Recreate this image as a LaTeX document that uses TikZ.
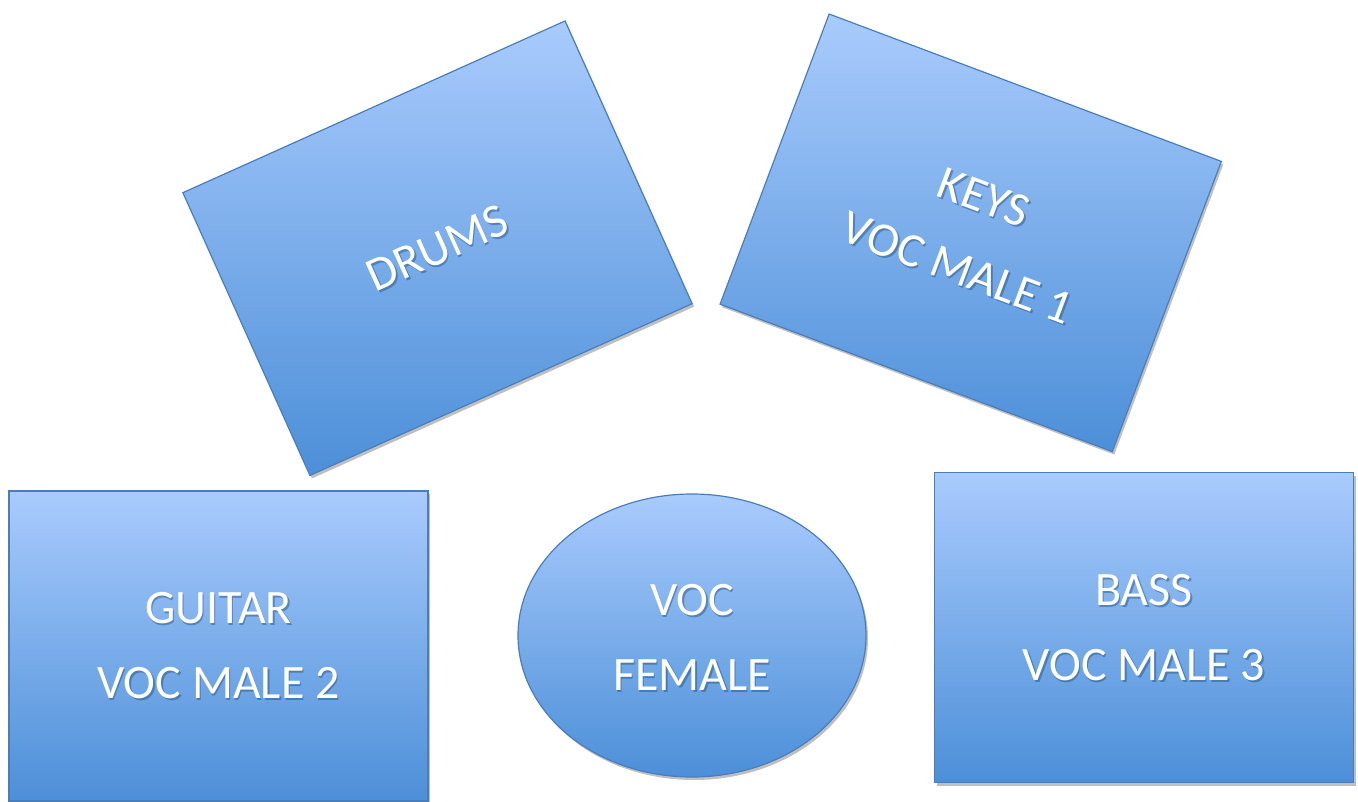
\documentclass[tikz,border=0pt]{standalone}
\usepackage{fontspec}
\setmainfont{Carlito}
\usetikzlibrary{shapes.geometric,shadows}
\definecolor{gtop}{HTML}{A9CBFD}
\definecolor{gbot}{HTML}{4C8FD8}
\definecolor{edgeblue}{HTML}{4A7EBB}
\definecolor{txtshadow}{HTML}{1F4E79}
\tikzset{
  panel/.style={draw=edgeblue, line width=1.2pt, top color=gtop, bottom color=gbot,
    drop shadow={shadow xshift=2pt, shadow yshift=-3pt, opacity=0.25, fill=black}},
  box/.style={panel, rectangle, minimum width=419pt, minimum height=310pt, inner sep=0pt},
  oval/.style={panel, ellipse, minimum width=348pt, minimum height=283pt, inner sep=0pt},
  lbl/.style={text=white, font=\fontsize{48}{75}\selectfont, align=center, inner sep=0pt},
  lblshadow/.style={lbl, text=txtshadow, opacity=0.45, xshift=1.5pt, yshift=-2pt}
}
\begin{document}
\begin{tikzpicture}[x=1pt,y=-1pt]
  \useasboundingbox (0,0) rectangle (1358,801);
  \clip (0,0) rectangle (1358,801);
  % shapes
  \node[box, rotate=24.2] (drums) at (437.5,248.2) {};
  \node[box, rotate=-20.6] (keys) at (970.7,232.8) {};
  \node[box] (guitar) at (218.5,646) {};
  \node[oval] (voc) at (692,635.5) {};
  \node[box] (bass) at (1144,627.5) {};
  % label shadows
  \node[lblshadow, rotate=24.2] (drumsS) at (drums.center) {DRUMS};
  \node[lblshadow, rotate=-20.6] (keysS) at (keys.center) {KEYS\\VOC MALE 1};
  \node[lblshadow] (guitarS) at (guitar.center) {GUITAR\\VOC MALE 2};
  \node[lblshadow] (vocS) at ([yshift=-2pt]voc.center) {VOC\\FEMALE};
  \node[lblshadow] (bassS) at (bass.center) {BASS\\VOC MALE 3};
  % labels
  \node[lbl, rotate=24.2] (drumsL) at (drums.center) {DRUMS};
  \node[lbl, rotate=-20.6] (keysL) at (keys.center) {KEYS\\VOC MALE 1};
  \node[lbl] (guitarL) at (guitar.center) {GUITAR\\VOC MALE 2};
  \node[lbl] (vocL) at ([yshift=-2pt]voc.center) {VOC\\FEMALE};
  \node[lbl] (bassL) at (bass.center) {BASS\\VOC MALE 3};
\end{tikzpicture}
\end{document}
